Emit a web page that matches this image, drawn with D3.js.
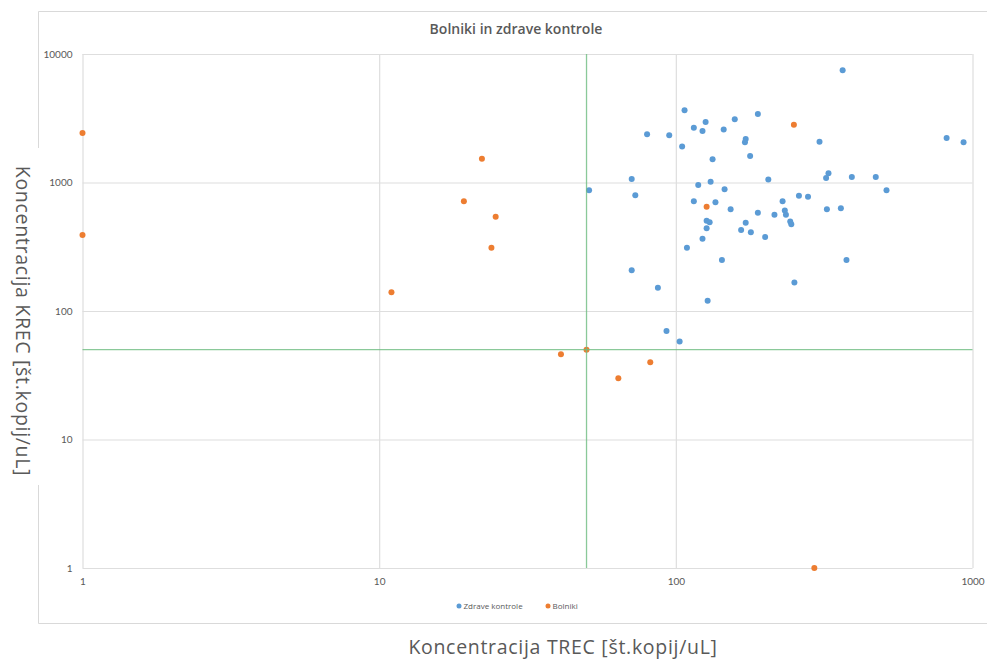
<!DOCTYPE html>
<html>
<head>
<meta charset="utf-8">
<script src="https://cdn.jsdelivr.net/npm/d3@7"></script>
<style>
  html, body { margin: 0; padding: 0; background: #fff; }
  svg { display: block; }
</style>
</head>
<body>
<svg id="chart" width="987" height="661"></svg>
<script>
// ---- data ----
const chartTitle = "Bolniki in zdrave kontrole";
const xTitle = "Koncentracija TREC [št.kopij/uL]";
const yTitle = "Koncentracija KREC [št.kopij/uL]";
const seriesNames = ["Zdrave kontrole", "Bolniki"];

// Zdrave kontrole: TREC (x) and KREC (y)
const controlsTREC = [51, 107, 95, 80, 115, 126, 123, 145, 158, 189, 105, 172, 171, 178, 133, 71, 73, 119, 131, 146, 205,
  365, 305, 818, 933, 327, 321, 392, 472, 513, 115, 136, 153, 189, 215, 229, 233, 235, 243, 245, 260, 279, 323, 360,
  127, 130, 127, 172, 166, 179, 200, 123, 109, 143, 376, 71, 87, 251, 128, 93, 103];
const controlsKREC = [870, 3650, 2330, 2370, 2670, 2960, 2520, 2590, 3100, 3410, 1910, 2180, 2060, 1610, 1515, 1065, 795, 956, 1014, 885, 1055,
  7470, 2080, 2220, 2055, 1180, 1085, 1105, 1105, 870, 714, 701, 619, 582, 561, 715, 605, 561, 497, 473, 789, 775, 619, 630,
  504, 490, 440, 487, 427, 410, 377, 365, 311, 249, 249, 208, 152, 167, 120, 70, 58];

// Bolniki: TREC (x) and KREC (y)
const patientsTREC = [1, 1, 11, 19.3, 22.2, 24.7, 23.9, 41, 50, 64, 82, 127, 250, 293];
const patientsKREC = [2430, 390, 140, 714, 1530, 542, 311, 46, 50, 30, 40, 648, 2820, 1];

// threshold reference lines
const thresholdTREC = [50];
const thresholdKREC = [50];

const xTicks = [1, 10, 100, 1000];
const yTicks = [1, 10, 100, 1000, 10000];
const seriesColors = ["#5b9bd5", "#ed7d31"];

// ---- layout ----
const svg = d3.select("#chart");
const plot = { left: 82.5, right: 972.5, top: 54, bottom: 568 };

const x = d3.scaleLog().domain([1, 1000]).range([plot.left, plot.right]);
const y = d3.scaleLog().domain([1, 10000]).range([plot.bottom, plot.top]);

const gridColor = "#dedede";
const textColor = "#595959";

// outer chart border (left side broken by the y title)
svg.append("path")
  .attr("d", "M38.5,148 L38.5,11.5 L987,11.5 M38.5,485 L38.5,623.5 L987,623.5")
  .attr("fill", "none").attr("stroke", "#d9d9d9").attr("stroke-width", 1);

// gridlines via axes
const gx = svg.append("g")
  .attr("transform", `translate(0,${plot.bottom})`)
  .call(d3.axisBottom(x).tickValues(xTicks).tickSize(-(plot.bottom - plot.top)).tickFormat(d3.format("d")).tickPadding(10));
gx.select(".domain").remove();
gx.selectAll(".tick line").attr("stroke", gridColor).attr("stroke-width", 1.2);
gx.selectAll(".tick text").attr("fill", textColor).attr("font-family", "Lato, sans-serif").attr("font-size", 10);

const gy = svg.append("g")
  .attr("transform", `translate(${plot.left},0)`)
  .call(d3.axisLeft(y).tickValues(yTicks).tickSize(-(plot.right - plot.left)).tickFormat(d3.format("d")).tickPadding(10));
gy.select(".domain").remove();
gy.selectAll(".tick line").attr("stroke", gridColor).attr("stroke-width", 1.2);
gy.selectAll(".tick text").attr("fill", textColor).attr("font-family", "Lato, sans-serif").attr("font-size", 10);

// series
const controls = controlsTREC.map((v, i) => ({ x: v, y: controlsKREC[i] }));
const patients = patientsTREC.map((v, i) => ({ x: v, y: patientsKREC[i] }));

svg.append("g").selectAll("circle").data(controls).join("circle")
  .attr("cx", d => x(d.x)).attr("cy", d => y(d.y)).attr("r", 3)
  .attr("fill", seriesColors[0]);

svg.append("g").selectAll("circle").data(patients).join("circle")
  .attr("cx", d => x(d.x)).attr("cy", d => y(d.y)).attr("r", 3)
  .attr("fill", seriesColors[1]);

// threshold lines
const thr = svg.append("g").attr("stroke", "#6dbb80").attr("stroke-width", 1.3).attr("stroke-opacity", 0.8);
thr.selectAll("line.v").data(thresholdTREC).join("line").attr("class", "v")
  .attr("x1", d => x(d)).attr("x2", d => x(d)).attr("y1", plot.top).attr("y2", plot.bottom);
thr.selectAll("line.h").data(thresholdKREC).join("line").attr("class", "h")
  .attr("x1", plot.left).attr("x2", plot.right).attr("y1", d => y(d)).attr("y2", d => y(d));

// chart title
svg.append("text").attr("x", 516).attr("y", 34).attr("text-anchor", "middle")
  .attr("font-family", "'Open Sans', sans-serif").attr("font-size", 14).attr("font-weight", 600)
  .attr("fill", textColor).text(chartTitle);

// legend
const legend = svg.append("g").attr("font-family", "'Open Sans', sans-serif").attr("font-size", 8).attr("fill", textColor);
const legendX = [459, 548];
seriesNames.forEach((name, i) => {
  legend.append("circle").attr("cx", legendX[i]).attr("cy", 606).attr("r", 2.5).attr("fill", seriesColors[i]);
  legend.append("text").attr("x", legendX[i] + 4.5).attr("y", 609).text(name);
});

// axis titles
svg.append("text").attr("x", 563).attr("y", 654).attr("text-anchor", "middle")
  .attr("font-family", "'Open Sans', sans-serif").attr("font-size", 19.5).attr("letter-spacing", 0.7)
  .attr("fill", textColor).text(xTitle);

svg.append("text").attr("transform", "translate(16,321) rotate(90)").attr("text-anchor", "middle")
  .attr("font-family", "'Open Sans', sans-serif").attr("font-size", 19.5).attr("letter-spacing", 0.7)
  .attr("fill", textColor).text(yTitle);
</script>
</body>
</html>
